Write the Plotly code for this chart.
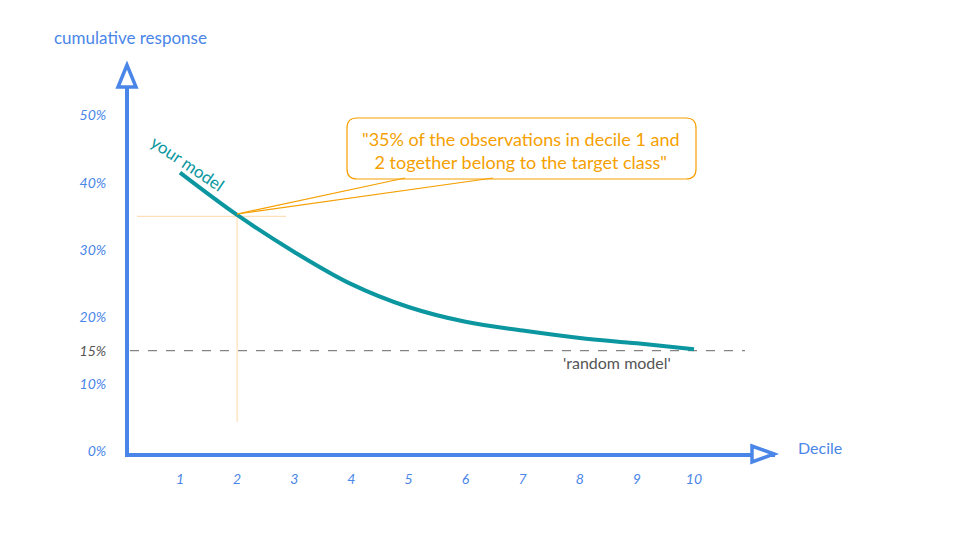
import plotly.graph_objects as go

# ---- data ----
deciles = [1, 2, 3, 4, 5, 6, 7, 8, 9, 10]
cum_response = [0.415, 0.352, 0.297, 0.249, 0.215, 0.193, 0.180, 0.169, 0.161, 0.152]
random_rate = 0.15
highlight_decile = 2
highlight_value = 0.35
ytick_vals = [0, 0.10, 0.15, 0.20, 0.30, 0.40, 0.50]
ytick_text = ["0%", "10%", "<span style='color:#555555'>15%</span>", "20%", "30%", "40%", "50%"]
xtick_text = [str(d) for d in deciles]

BLUE = "#4a86e8"
TEAL = "#0c97a0"
ORANGE = "#f59f00"
PEACH = "#ffd8a8"
GRAY = "#555555"
FONT = "Lato"

# layout geometry (pixels)
L, T, R, B = 129, 65, 775, 453
W, H = R - L, B - T

def px(x):
    return (x - L) / W

def py(y):
    return (B - y) / H

# pixel <-> data mapping of the reference
X_PX1, X_STEP = 180.0, 57.11
Y_PX0, Y_SCALE = 451.5, 672.0

def xdata(p):
    return 1 + (p - X_PX1) / X_STEP

def ydata(p):
    return (Y_PX0 - p) / Y_SCALE

fig = go.Figure()

fig.add_trace(go.Scatter(
    x=deciles, y=cum_response, mode="lines",
    line=dict(color=TEAL, width=4, shape="spline", smoothing=1.0),
    hoverinfo="skip", showlegend=False,
))

shapes = []
# random model dashed line
shapes.append(dict(type="line", xref="paper", yref="y", x0=px(130), x1=px(745),
                   y0=random_rate, y1=random_rate,
                   line=dict(color="#666666", width=1, dash="dash"), layer="below"))
# crosshair at decile 2
shapes.append(dict(type="line", xref="paper", yref="y", x0=px(137), x1=px(286),
                   y0=highlight_value, y1=highlight_value,
                   line=dict(color=PEACH, width=1), layer="below"))
shapes.append(dict(type="line", xref="x", yref="paper", x0=highlight_decile, x1=highlight_decile,
                   y0=py(217), y1=py(422),
                   line=dict(color=PEACH, width=1), layer="below"))
# callout pointer lines
for bx in (405, 493):
    shapes.append(dict(type="line", xref="paper", yref="paper",
                       x0=px(237), y0=py(214), x1=px(bx), y1=py(178),
                       line=dict(color=ORANGE, width=1.2)))
# callout rounded box
x0b, x1b, y0b, y1b, r = 347, 696, 118, 179, 10
path = (f"M {px(x0b+r)},{py(y0b)} L {px(x1b-r)},{py(y0b)} "
        f"Q {px(x1b)},{py(y0b)} {px(x1b)},{py(y0b+r)} "
        f"L {px(x1b)},{py(y1b-r)} Q {px(x1b)},{py(y1b)} {px(x1b-r)},{py(y1b)} "
        f"L {px(x0b+r)},{py(y1b)} Q {px(x0b)},{py(y1b)} {px(x0b)},{py(y1b-r)} "
        f"L {px(x0b)},{py(y0b+r)} Q {px(x0b)},{py(y0b)} {px(x0b+r)},{py(y0b)} Z")
shapes.append(dict(type="path", xref="paper", yref="paper", path=path,
                   line=dict(color=ORANGE, width=1.2), fillcolor="rgba(0,0,0,0)"))
# arrow heads (hollow)
ypath = f"M {px(127)},{py(65)} L {px(118)},{py(87)} L {px(136)},{py(87)} Z"
shapes.append(dict(type="path", xref="paper", yref="paper", path=ypath,
                   line=dict(color=BLUE, width=3.5), fillcolor="white"))
xpath = f"M {px(774)},{py(454)} L {px(752)},{py(446)} L {px(752)},{py(462)} Z"
shapes.append(dict(type="path", xref="paper", yref="paper", path=xpath,
                   line=dict(color=BLUE, width=3.5), fillcolor="white"))

def ann(text, x, y, size, color, angle=0, **kw):
    return dict(text=text, xref="paper", yref="paper", x=px(x), y=py(y),
                xanchor="center", yanchor="middle", showarrow=False, textangle=angle,
                font=dict(family=FONT, size=size, color=color), **kw)

annotations = [
    ann("cumulative response", 130, 37, 17, BLUE),
    ann("Decile", 820, 447, 16, BLUE),
    ann("your model", 188, 163, 17, TEAL, angle=34),
    ann("'random model'", 617, 362, 16, GRAY),
    ann("\"35% of the observations in decile 1 and<br>2 together belong to the target class\"",
        521, 150, 18, ORANGE, align="center"),
]

fig.update_layout(
    width=960, height=540,
    margin=dict(l=L, r=960 - R, t=T, b=540 - B, pad=0),
    paper_bgcolor="white", plot_bgcolor="white",
    showlegend=False,
    shapes=shapes, annotations=annotations,
    xaxis=dict(range=[xdata(L), xdata(R)], tickvals=deciles, ticktext=xtick_text,
               showgrid=False, zeroline=False, showline=True, linecolor=BLUE, linewidth=4,
               ticks="outside", ticklen=10, tickcolor="rgba(0,0,0,0)",
               tickfont=dict(family=FONT, size=14, color=BLUE, style="italic")),
    yaxis=dict(range=[ydata(B), ydata(T)], tickvals=ytick_vals, ticktext=ytick_text,
               showgrid=False, zeroline=False, showline=True, linecolor=BLUE, linewidth=4,
               ticks="outside", ticklen=16, tickcolor="rgba(0,0,0,0)",
               tickfont=dict(family=FONT, size=14, color=BLUE, style="italic")),
)

fig.write_html("out.html")
